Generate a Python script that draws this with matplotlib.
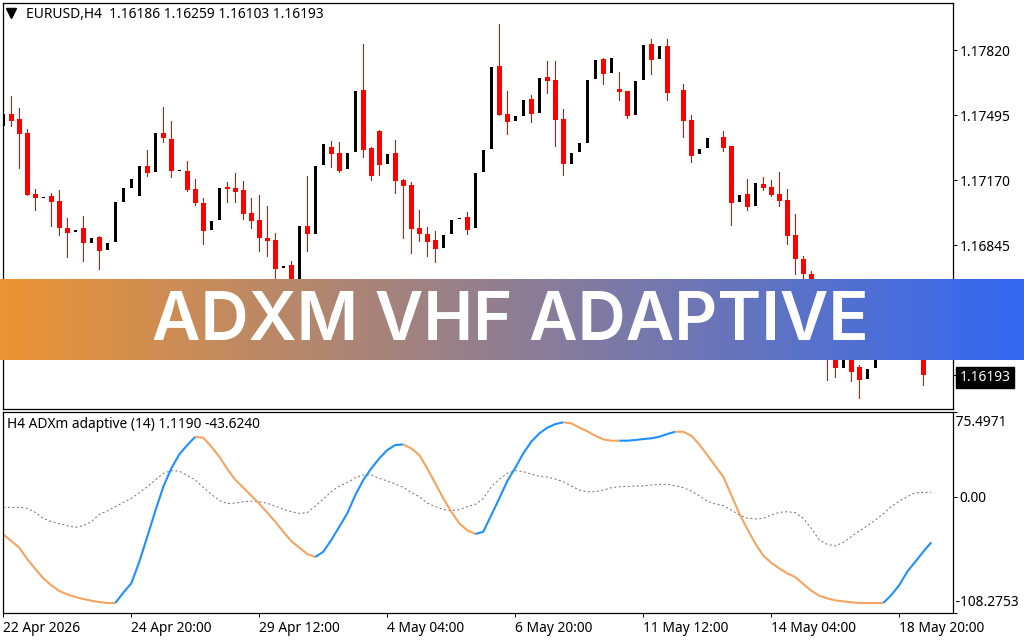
import numpy as np
import matplotlib
matplotlib.use('Agg')
import matplotlib.pyplot as plt
from matplotlib.colors import LinearSegmentedColormap

nan = float('nan')

opens = [1.17440, 1.17500, 1.17475, 1.17405, 1.17100, 1.17080, 1.17090, 1.17065, 1.16930, 1.16910,
         1.16930, 1.16855, 1.16885, 1.16820, 1.16860, 1.17060, 1.17130, 1.17090, 1.17240, 1.17210,
         1.17405, 1.17375, 1.17215, 1.17215, 1.17125, 1.17055, 1.16920, 1.16970, 1.17135, 1.17130,
         1.17120, 1.17005, 1.16970, 1.16880, 1.16870, 1.16730, 1.16745, 1.16570, 1.16940, 1.16900,
         1.17245, 1.17335, 1.17305, 1.17225, 1.17310, 1.17620, 1.17330, 1.17415, 1.17250, 1.17305,
         1.17170, 1.17145, 1.16930, 1.16900, 1.16870, 1.16830, 1.16900, 1.16975, 1.16985, 1.16930,
         1.17210, 1.17325, 1.17740, 1.17500, 1.17465, 1.17490, 1.17575, 1.17505, 1.17685, 1.17670,
         1.17475, 1.17250, 1.17310, 1.17355, 1.17675, 1.17775, 1.17705, 1.17625, 1.17615, 1.17495,
         1.17670, 1.17850, 1.17775, 1.17840, nan, 1.17620, 1.17470, 1.17300, 1.17330, nan,
         1.17385, 1.17340, 1.17060, 1.17100, 1.17040, 1.17150, 1.17135, 1.17100, 1.17070, 1.16895,
         1.16775, 1.16700, 1.16595, 1.16420, 1.16345, 1.16230, 1.16310, 1.16235, 1.16175, 1.16230,
         1.16370, 1.16470, 1.16395, 1.16520, 1.16420, 1.16320]
highs = [1.17500, 1.17590, 1.17530, 1.17425, 1.17125, 1.17085, 1.17105, 1.17120, 1.16980, 1.16920,
         1.16990, 1.16880, 1.16890, 1.16855, 1.17060, 1.17130, 1.17175, 1.17240, 1.17320, 1.17405,
         1.17535, 1.17465, 1.17220, 1.17265, 1.17175, 1.17080, 1.16965, 1.17130, 1.17160, 1.17205,
         1.17165, 1.17080, 1.17095, 1.17040, 1.16905, 1.16740, 1.16765, 1.16940, 1.17190, 1.17240,
         1.17350, 1.17365, 1.17360, 1.17305, 1.17615, 1.17850, 1.17335, 1.17420, 1.17300, 1.17370,
         1.17175, 1.17160, 1.17020, 1.16935, 1.16915, 1.16895, 1.16970, 1.16980, 1.17010, 1.17205,
         1.17320, 1.17735, 1.17950, 1.17615, 1.17490, 1.17570, 1.17595, 1.17680, 1.17765, 1.17765,
         1.17525, 1.17305, 1.17355, 1.17670, 1.17770, 1.17780, 1.17780, 1.17710, 1.17615, 1.17665,
         1.17845, 1.17875, 1.17840, 1.17875, nan, 1.17650, 1.17495, 1.17325, 1.17380, nan,
         1.17415, 1.17340, 1.17095, 1.17175, 1.17155, 1.17185, 1.17170, 1.17210, 1.17125, 1.17000,
         1.16790, 1.16715, 1.16620, 1.16445, 1.16395, 1.16320, 1.16345, 1.16245, 1.16225, 1.16370,
         1.16470, 1.16500, 1.16520, 1.16530, 1.16440, 1.16345]
lows = [1.17440, 1.17440, 1.17230, 1.17095, 1.17020, 1.17080, 1.16940, 1.16895, 1.16785, 1.16910,
        1.16765, 1.16855, 1.16725, 1.16820, 1.16860, 1.17060, 1.17130, 1.17090, 1.17190, 1.17210,
        1.17360, 1.17185, 1.17215, 1.17115, 1.17045, 1.16850, 1.16920, 1.16970, 1.17060, 1.17060,
        1.16975, 1.16930, 1.16815, 1.16790, 1.16645, 1.16730, 1.16595, 1.16570, 1.16815, 1.16900,
        1.17245, 1.17235, 1.17210, 1.17225, 1.17310, 1.17285, 1.17170, 1.17195, 1.17250, 1.17105,
        1.16880, 1.16805, 1.16865, 1.16790, 1.16760, 1.16830, 1.16900, 1.16975, 1.16900, 1.16930,
        1.17210, 1.17325, 1.17495, 1.17400, 1.17465, 1.17490, 1.17460, 1.17505, 1.17605, 1.17340,
        1.17195, 1.17250, 1.17310, 1.17355, 1.17675, 1.17650, 1.17705, 1.17570, 1.17480, 1.17495,
        1.17670, 1.17700, 1.17775, 1.17570, nan, 1.17385, 1.17260, 1.17300, 1.17330, nan,
        1.17315, 1.16945, 1.17060, 1.17020, 1.17040, 1.17120, 1.17090, 1.17040, 1.16850, 1.16700,
        1.16645, 1.16520, 1.16420, 1.16170, 1.16185, 1.16230, 1.16165, 1.16080, 1.16175, 1.16230,
        1.16370, 1.16370, 1.16395, 1.16400, 1.16300, 1.16145]
closes = [1.17500, 1.17465, 1.17400, 1.17095, 1.17080, 1.17085, 1.17060, 1.16930, 1.16905, 1.16920,
          1.16855, 1.16880, 1.16815, 1.16855, 1.17060, 1.17130, 1.17175, 1.17240, 1.17205, 1.17405,
          1.17380, 1.17215, 1.17220, 1.17120, 1.17055, 1.16915, 1.16965, 1.17130, 1.17125, 1.17110,
          1.17000, 1.16965, 1.16880, 1.16865, 1.16725, 1.16740, 1.16620, 1.16940, 1.16900, 1.17240,
          1.17350, 1.17300, 1.17215, 1.17305, 1.17615, 1.17320, 1.17190, 1.17245, 1.17300, 1.17165,
          1.17140, 1.16925, 1.16900, 1.16860, 1.16825, 1.16895, 1.16970, 1.16980, 1.16920, 1.17205,
          1.17320, 1.17735, 1.17495, 1.17460, 1.17490, 1.17570, 1.17500, 1.17680, 1.17665, 1.17470,
          1.17250, 1.17305, 1.17355, 1.17670, 1.17770, 1.17700, 1.17780, 1.17610, 1.17490, 1.17665,
          1.17845, 1.17770, 1.17840, 1.17605, nan, 1.17465, 1.17290, 1.17325, 1.17380, nan,
          1.17330, 1.17055, 1.17095, 1.17035, 1.17155, 1.17130, 1.17095, 1.17065, 1.16890, 1.16775,
          1.16700, 1.16570, 1.16470, 1.16345, 1.16230, 1.16320, 1.16210, 1.16170, 1.16225, 1.16370,
          1.16470, 1.16395, 1.16520, 1.16420, 1.16320, 1.16193]

adx_main = [-38.5, -45.3, -52.0, -63.6, -73.7, -83.2, -90.3, -96.1, -99.5, -102.2,
            -104.2, -105.9, -107.3, -108.27, -108.27, -97.8, -88.3, -66.3, -40.8, -14.7,
            10.0, 28.6, 42.9, 52.4, 60.8, 59.8, 50.7, 40.5, 28.0, 17.1,
            9.0, 0.8, -7.3, -16.4, -25.6, -35.8, -45.3, -52.0, -58.5, -61.5,
            -56.1, -44.2, -30.7, -17.1, 1.5, 16.8, 28.6, 38.8, 47.3, 52.4,
            53.0, 49.0, 42.2, 28.6, 13.4, -1.9, -15.4, -27.3, -34.4, -38.1,
            -35.8, -18.8, -1.9, 15.8, 29.3, 43.9, 55.8, 64.2, 70.0, 73.7,
            75.5, 74.4, 70.3, 66.3, 61.9, 58.1, 56.8, 56.8, 56.8, 57.5,
            58.5, 59.2, 60.8, 63.6, 65.9, 65.9, 61.9, 53.0, 42.2, 31.0,
            20.2, 1.5, -17.1, -33.1, -47.6, -60.2, -67.3, -73.1, -78.1, -81.9,
            -89.0, -95.8, -100.9, -103.6, -105.6, -106.6, -107.6, -108.27, -108.27, -108.27,
            -108.27, -100.2, -90.0, -76.4, -66.3, -56.1, -46.6]
adx_signal = [-11.0, -11.0, -11.0, -12.0, -16.1, -22.2, -25.6, -27.6, -29.7, -31.4,
              -29.7, -25.6, -18.1, -14.7, -10.3, -5.9, -1.9, 3.9, 10.0, 16.8,
              23.6, 26.3, 25.9, 21.2, 16.8, 9.3, 2.2, -3.9, -7.3, -6.6,
              -5.3, -4.6, -5.3, -6.9, -9.7, -13.1, -15.4, -17.1, -16.4, -9.7,
              -2.5, 4.9, 10.7, 14.1, 19.2, 21.9, 21.9, 18.5, 15.8, 12.7,
              9.3, 4.2, -0.2, -6.6, -10.3, -13.1, -14.4, -13.4, -10.3, -8.0,
              -1.9, 10.0, 17.8, 23.6, 26.3, 25.3, 22.9, 20.5, 19.8, 17.8,
              15.1, 10.7, 6.6, 4.9, 4.9, 6.6, 9.0, 10.0, 10.3, 10.7,
              10.7, 11.7, 12.4, 12.4, 11.0, 9.0, 5.6, 0.8, -4.6, -7.6,
              -9.3, -13.7, -18.8, -21.9, -22.9, -22.2, -18.8, -16.1, -15.4, -16.4,
              -22.2, -32.4, -44.2, -48.6, -50.3, -46.6, -40.8, -35.1, -29.7, -23.9,
              -17.5, -10.3, -4.6, -0.2, 3.9, 4.2, 4.2]

# bars where the main line swaps colour, first stretch is orange
turns = [0, 14, 24, 39, 50, 59, 70, 77, 84, 110, 116]

price_ticks = [1.17820, 1.17495, 1.17170, 1.16845]
last_price = 1.16193
adx_top, adx_bottom = 75.4971, -108.2753
time_ticks = [0, 16, 32, 48, 64, 80, 96, 112]
time_labels = ['22 Apr 2026', '24 Apr 20:00', '29 Apr 12:00', '4 May 04:00',
               '6 May 20:00', '11 May 12:00', '14 May 04:00', '18 May 20:00']

W, H = 1024, 640
FONT = 'Noto Sans'
FS = 9.9
plt.rcParams['font.family'] = FONT


def box(x0, y0, x1, y1):
    # pixel box (y from top) to figure fraction
    return [x0 / W, 1 - y1 / H, (x1 - x0) / W, (y1 - y0) / H]


fig = plt.figure(figsize=(W / 100, H / 100), dpi=100, facecolor='white')
ax = fig.add_axes(box(2.5, 2.5, 952.5, 409))
ax2 = fig.add_axes(box(2.5, 411.5, 952.5, 613))

x = np.arange(len(opens))
o, h, l, c = map(np.array, (opens, highs, lows, closes))
up = c >= o
down = c < o

ax.vlines(x[down], l[down], h[down], color='#ff0000', lw=0.72, antialiased=False)
ax.bar(x[down], (o - c)[down], bottom=c[down], width=0.625, color='#ff0000', antialiased=False)
ax.bar(x[up], (c - o)[up], bottom=o[up], width=0.375, color='black', antialiased=False)

ax.set_xlim(-0.1, 118.65)
ax.set_ylim(1.18070 - 409 * 0.00005, 1.18070 - 2.5 * 0.00005)
ax.set_xticks([])
ax.yaxis.tick_right()
ax.set_yticks(price_ticks + [last_price])
ax.set_yticklabels([f'{p:.5f}' for p in price_ticks] + [f'{last_price:.5f}'])
ax.tick_params(axis='y', length=3, width=0.72, pad=2, labelsize=FS)
ax.get_yticklabels()[-1].set_color('white')
ax.get_yticklabels()[-1].set_bbox(dict(facecolor='black', edgecolor='black', pad=2.4))

ax.text(24 / 950, 0.9717, 'EURUSD,H4  1.16186 1.16259 1.16103 1.16193', transform=ax.transAxes,
        va='center', ha='left', fontsize=FS)
ax.plot([8.8 / 950], [0.974], marker='v', ms=6.5, color='black', transform=ax.transAxes, clip_on=False)

xl = np.arange(len(adx_main))
ax2.plot(xl, adx_signal, color='#707070', lw=0.72, dashes=(2, 2.5))
seg_colors = ['#f4a460', '#1e90ff']
for k in range(len(turns) - 1):
    a, b = turns[k], turns[k + 1]
    ax2.plot(xl[a:b + 1], adx_main[a:b + 1], color=seg_colors[k % 2], lw=1.5, solid_capstyle='butt')

ax2.set_xlim(-0.1, 118.65)
ax2.set_ylim(-118.45, 86.5)
ax2.yaxis.tick_right()
# only 0.00 has its tick beside the label, the extremes tick at the pane edges
ax2.set_yticks([0.0])
ax2.set_yticklabels(['0.00'])
ax2.set_yticks([-118.45, 86.5], minor=True)
ax2.tick_params(axis='y', which='both', length=3, width=0.72, pad=2, labelsize=FS)
trans = ax2.get_yaxis_transform()
ax2.text(1.0, adx_top, ' ' + f'{adx_top:.4f}', transform=trans, va='center', ha='left', fontsize=FS)
ax2.text(1.0, adx_bottom, ' ' + f'{adx_bottom:.4f}', transform=trans, va='center', ha='left', fontsize=FS)
ax2.set_xticks(time_ticks)
ax2.set_xticklabels(time_labels, ha='left')
ax2.tick_params(axis='x', length=3, width=0.72, pad=3, labelsize=FS)
ax2.text(4.5 / 950, 0.935, 'H4 ADXm adaptive (14) 1.1190 -43.6240', transform=ax2.transAxes,
         va='center', ha='left', fontsize=FS)

for a_ in (ax, ax2):
    for s in a_.spines.values():
        s.set_linewidth(0.9)

# banner across the chart
gradient = LinearSegmentedColormap.from_list('banner', ['#ec9434', '#3268f2'])
bn = fig.add_axes(box(0, 279.5, 1024, 360.5), zorder=5)
bn.imshow(np.linspace(0, 1, 512).reshape(1, -1), aspect='auto', cmap=gradient, extent=(0, 1024, 0, 81))
bn.axis('off')
bn.text(510, 38, 'ADXM VHF ADAPTIVE', color='white', ha='center', va='center',
        fontsize=48, fontweight=600, family='Inter')

fig.savefig('out.png', dpi=100)
